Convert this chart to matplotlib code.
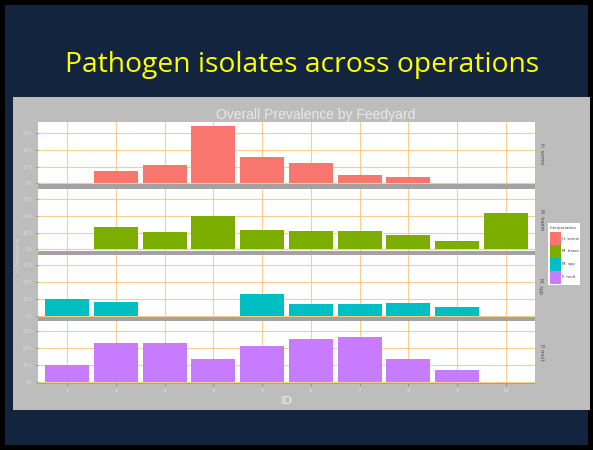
import numpy as np
import matplotlib
matplotlib.use("Agg")
import matplotlib.pyplot as plt
from matplotlib.patches import Rectangle

nan = np.nan
ids = [1, 2, 3, 4, 5, 6, 7, 8, 9, 10]
tick_labels = ["1", "2", "3", "4", "5", "6", "7", "8", "9", "10"]
pathogens = ["H. somni", "M. haem", "M. spp", "P. mult"]
colors = ["#F8766D", "#7CAE00", "#00BFC4", "#C77CFF"]
prev_hs = [nan, 7.6, 10.8, 34.4, 15.6, 12.4, 5.2, 3.6, nan, nan]
prev_mh = [nan, 13.5, 10.2, 20.0, 11.4, 11.2, 10.8, 8.8, 5.1, 21.6]
prev_ms = [9.8, 8.2, nan, nan, 12.7, 6.9, 7.1, 7.6, 4.9, nan]
prev_pm = [10.0, 23.3, 23.3, 13.3, 21.6, 25.3, 26.7, 13.5, 6.7, nan]
series = [prev_hs, prev_mh, prev_ms, prev_pm]
yticks = [0, 10, 20, 30]
ytick_labels = ["0%", "10%", "20%", "30%"]

W, H = 593, 450
fig = plt.figure(figsize=(W / 100, H / 100), dpi=100)
fig.patch.set_facecolor("black")


def fr(x, y, w, h):
    return [x / W, 1 - (y + h) / H, w / W, h / H]


def frect(x, y, w, h, color, z):
    fig.patches.append(Rectangle((x / W, 1 - (y + h) / H), w / W, h / H,
                                 transform=fig.transFigure, facecolor=color,
                                 edgecolor="none", zorder=z))


frect(5, 5, 583, 440, "#12243e", -5)      # slide
frect(13, 97, 577, 313, "#bdbdbd", -4)    # embedded plot background
frect(38, 121.5, 497, 262, "#a2a2a2", -3)  # facet separators

fig.text(302 / W, 1 - 72 / H, "Pathogen isolates across operations", color="#ffff00",
         fontsize=20.3, family="Open Sans", ha="center", va="baseline")
fig.text(316 / W, 1 - 115 / H, "Overall Prevalence by Feedyard", color="#e8e8e8",
         fontsize=10, family="Liberation Sans", ha="center", va="center")

tops = [122.5, 188.5, 254.8, 320.8]
ph = 62
grid_c = "#f9cf8f"
for i, (vals, col, name) in enumerate(zip(series, colors, pathogens)):
    ax = fig.add_axes(fr(38, tops[i], 497, ph))
    ax.set_facecolor("white")
    ax.set_xlim(0.4, 10.6)
    ax.set_ylim(-0.7, 36.4)
    ax.set_xticks(ids)
    ax.set_yticks(yticks)
    ax.grid(True, color=grid_c, linewidth=0.8)
    ax.set_axisbelow(True)
    ax.bar(ids, vals, width=0.9, color=col, zorder=2)
    for s in ax.spines.values():
        s.set_visible(False)
    ax.set_yticklabels(ytick_labels, fontsize=3.5, color="#dedede")
    ax.tick_params(axis="y", length=1.5, width=0.5, color="#808080", pad=1.5)
    if i == 3:
        ax.set_xticklabels(tick_labels, fontsize=4, color="#e0e0e0")
        ax.tick_params(axis="x", length=2, width=0.5, color="#808080", pad=2)
    else:
        ax.tick_params(axis="x", length=0, labelbottom=False)
    fig.text(541 / W, 1 - (tops[i] + ph / 2) / H, name, rotation=-90, fontsize=3.5,
             color="#505050", ha="center", va="center")

fig.text(287 / W, 1 - 401 / H, "ID", color="#f0f0f0", fontsize=8, ha="center", va="center")
fig.text(18 / W, 1 - 255 / H, "% Prevalence", color="#d8d8d8", fontsize=3.8, rotation=90,
         ha="center", va="center")

# legend
lx, ly, lw, lh = 548, 223, 32, 62
frect(lx, ly, lw, lh, "white", 2)
fig.text((lx + 2) / W, 1 - (ly + 4.5) / H, "Interpretation", fontsize=2.8, color="#404040",
         ha="left", va="center", zorder=3)
for k, (name, col) in enumerate(zip(pathogens, colors)):
    ky = ly + 9 + 13 * k
    frect(lx + 1.5, ky, 11, 13, col, 3)
    fig.text((lx + 14) / W, 1 - (ky + 6.5) / H, name, fontsize=2.8, color="#404040",
             ha="left", va="center", zorder=3)

fig.savefig("out.png", dpi=100, facecolor=fig.get_facecolor())
